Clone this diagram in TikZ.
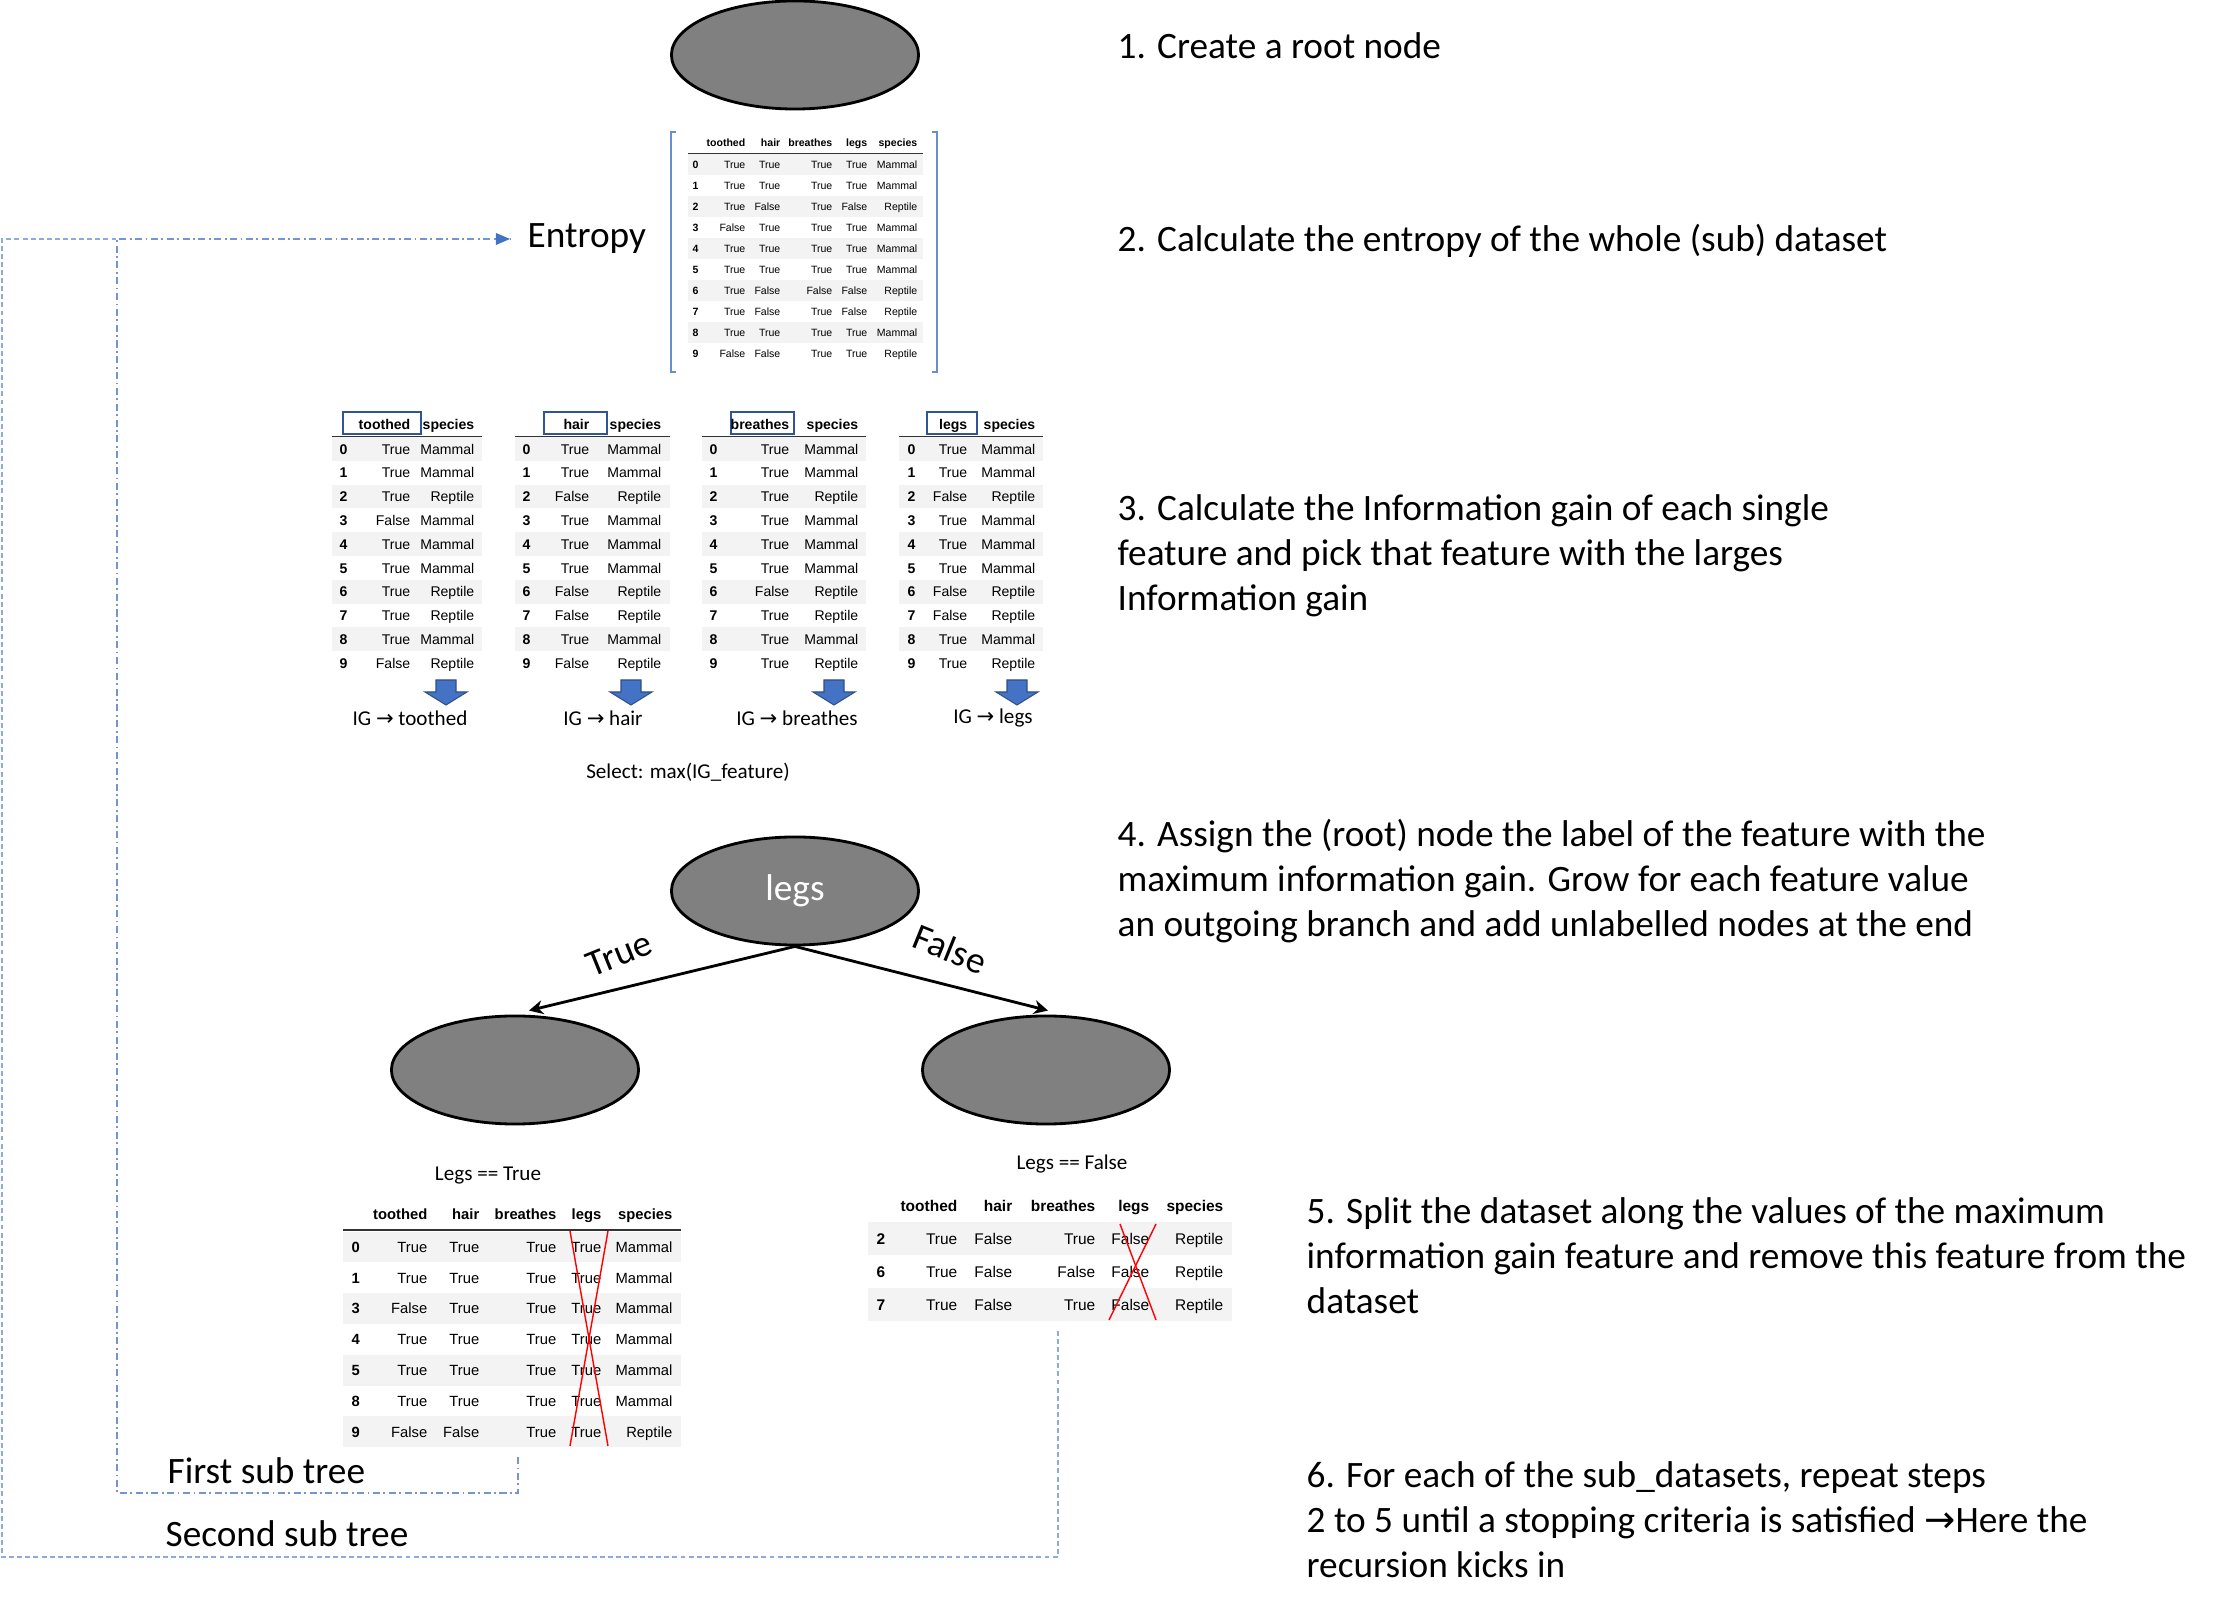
\documentclass[tikz,border=0pt]{standalone}
\usepackage{fontspec}
\setmainfont{Carlito}
\newfontfamily\tablefont{Liberation Sans}
\newfontfamily\arrowfont{DejaVu Sans}
\usetikzlibrary{arrows.meta, positioning, shapes.geometric, calc}

\definecolor{officeblue}{HTML}{4472C4}
\definecolor{loopblue}{HTML}{8FAADC}
\definecolor{boxblue}{HTML}{2F5597}
\definecolor{rowgray}{HTML}{F3F3F3}
\newcommand{\igarrow}{{\arrowfont →}}

% rows of the animal dataset: index/toothed/hair/breathes/legs/species
\def\animalrows{0/True/True/True/True/Mammal, 1/True/True/True/True/Mammal, 2/True/False/True/False/Reptile, 3/False/True/True/True/Mammal, 4/True/True/True/True/Mammal, 5/True/True/True/True/Mammal, 6/True/False/False/False/Reptile, 7/True/False/True/False/Reptile, 8/True/True/True/True/Mammal, 9/False/False/True/True/Reptile}
\def\legstruerows{0/True/True/True/True/Mammal, 1/True/True/True/True/Mammal, 3/False/True/True/True/Mammal, 4/True/True/True/True/Mammal, 5/True/True/True/True/Mammal, 8/True/True/True/True/Mammal, 9/False/False/True/True/Reptile}
\def\legsfalserows{2/True/False/True/False/Reptile, 6/True/False/False/False/Reptile, 7/True/False/True/False/Reptile}

\begin{document}
\begin{tikzpicture}[
    x=0.01cm, y=-0.01cm,
    treenode/.style={ellipse, draw=black, line width=0.8pt, fill=black!50, minimum width=2.47cm, minimum height=1.08cm, inner sep=0pt},
    steptext/.style={anchor=north west, align=left, inner sep=0pt, font=\fontsize{10.6}{12.76}\selectfont},
    biglabel/.style={inner sep=0pt, font=\fontsize{10.6}{12.76}\selectfont},
    smalllabel/.style={inner sep=0pt, font=\fontsize{6}{7.2}\selectfont},
    cell/.style={inner sep=0pt, text height=0.72*#1pt, text depth=0pt, font=\tablefont\fontsize{#1}{#1}\selectfont},
    headcell/.style={cell=#1, font=\tablefont\bfseries\fontsize{#1}{#1}\selectfont},
    headrule/.style={line width=0.5pt, black!80},
    featbox/.style={draw=boxblue, line width=0.6pt},
    bracket/.style={draw=officeblue!80, line width=0.6pt},
    igblock/.style={fill=officeblue, draw=officeblue!70!black, line width=0.3pt},
    treearrow/.style={-{Stealth[length=4pt, width=4pt]}, line width=0.8pt},
    crossout/.style={red, line width=0.4pt},
    outerloop/.style={loopblue, line width=0.6pt, dash pattern=on 1.4pt off 0.9pt},
    innerloop/.style={officeblue!75, line width=0.6pt, dash pattern=on 2pt off 1pt on 0.5pt off 1pt}
]
\useasboundingbox (0,0) rectangle (2217,1610);

% Step 1 and 2: root node and the whole dataset
\node[treenode] (root) at (795,55) {};
\draw[bracket] (676,132) -| (671,372) -- (676,372);
\draw[bracket] (932,132) -| (937,372) -- (932,372);
\foreach \col/\xr in {toothed/746, hair/781, breathes/833, legs/868, species/918}
    \node[headcell=3, anchor=east] (full-head-\col) at (\xr,143) {\col};
\draw[headrule] (688,154) -- (923,154);
\foreach \r/\a/\b/\c/\d/\s [count=\k from 0] in \animalrows {
    \pgfmathsetmacro{\yy}{165+21*\k}
    \ifodd\k\else \fill[rowgray] (688,\yy-10.5) rectangle (923,\yy+10.5); \fi
    \node[headcell=3, anchor=west] (full-\r-index) at (692,\yy) {\r};
    \node[cell=3, anchor=east] (full-\r-toothed) at (746,\yy) {\a};
    \node[cell=3, anchor=east] (full-\r-hair) at (781,\yy) {\b};
    \node[cell=3, anchor=east] (full-\r-breathes) at (833,\yy) {\c};
    \node[cell=3, anchor=east] (full-\r-legs) at (868,\yy) {\d};
    \node[cell=3, anchor=east] (full-\r-species) at (918,\yy) {\s};
}
\node[biglabel, anchor=west] (entropy) at (527,239) {Entropy};

% Step 3: one table per feature
\foreach \feat/\bl/\br/\rl/\rr/\xv/\xs in {toothed/343/421/332/482/411/475, hair/544/607/515/670/590/662, breathes/731/794/702/866/790/859, legs/927/977/899/1043/968/1036} {
    \draw[featbox] (\bl,412) rectangle (\br,434);
    \node[headcell=4, anchor=east] (\feat-head) at (\xv,424) {\feat};
    \node[headcell=4, anchor=east] (\feat-head-species) at (\xs,424) {species};
    \draw[headrule] (\rl,437) -- (\rr,437);
}
\foreach \r/\a/\b/\c/\d/\s [count=\k from 0] in \animalrows {
    \pgfmathsetmacro{\yy}{449+23.8*\k}
    \foreach \feat/\v/\rl/\rr/\xi/\xv/\xs in {toothed/\a/332/482/339/411/475, hair/\b/515/670/522/590/662, breathes/\c/702/866/709/790/859, legs/\d/899/1043/907/968/1036} {
        \ifodd\k\else \fill[rowgray] (\rl,\yy-11.9) rectangle (\rr,\yy+11.9); \fi
        \node[headcell=4, anchor=west] (\feat-\r-index) at (\xi,\yy) {\r};
        \node[cell=4, anchor=east] (\feat-\r-value) at (\xv,\yy) {\v};
        \node[cell=4, anchor=east] (\feat-\r-species) at (\xs,\yy) {\s};
    }
}
\foreach \xc in {446,631,834,1017}
    \fill[igblock] (\xc-10,680) -- (\xc+10,680) -- (\xc+10,692) -- (\xc+21,692) -- (\xc,705) -- (\xc-21,692) -- (\xc-10,692) -- cycle;
\node[smalllabel] (ig-toothed) at (410,718) {IG \igarrow{} toothed};
\node[smalllabel] (ig-hair) at (603,718) {IG \igarrow{} hair};
\node[smalllabel] (ig-breathes) at (797,718) {IG \igarrow{} breathes};
\node[smalllabel] (ig-legs) at (993,718) {IG \igarrow{} legs};
\node[smalllabel] (select) at (688,772) {Select: max(IG\_feature)};

% Step 4: labelled node and its branches
\node[treenode, text=white, font=\fontsize{10.6}{12.76}\selectfont] (legs) at (795,891) {legs};
\node[treenode] (lchild) at (515,1070) {};
\node[treenode] (rchild) at (1046,1070) {};
\draw[treearrow] (legs.south) -- ([shift={(14,-4)}]lchild.north);
\draw[treearrow] (legs.south) -- ([shift={(2,-4)}]rchild.north);
\node[biglabel, rotate=22] (true-label) at (619,954) {True};
\node[biglabel, rotate=-22] (false-label) at (950,949) {False};

% Step 5: split datasets
\node[smalllabel] (legs-true-title) at (488,1176) {Legs == True};
\foreach \col/\xr in {toothed/428, hair/480, breathes/557, legs/602, species/673}
    \node[headcell=4.2, anchor=east] (ltrue-head-\col) at (\xr,1214) {\col};
\draw[headrule] (343,1230) -- (681,1230);
\foreach \r/\a/\b/\c/\d/\s [count=\k from 0] in \legstruerows {
    \pgfmathsetmacro{\yy}{1247+30.8*\k}
    \ifodd\k\else \fill[rowgray] (343,\yy-15.4) rectangle (681,\yy+15.4); \fi
    \node[headcell=4.2, anchor=west] (ltrue-\r-index) at (351,\yy) {\r};
    \node[cell=4.2, anchor=east] (ltrue-\r-toothed) at (428,\yy) {\a};
    \node[cell=4.2, anchor=east] (ltrue-\r-hair) at (480,\yy) {\b};
    \node[cell=4.2, anchor=east] (ltrue-\r-breathes) at (557,\yy) {\c};
    \node[cell=4.2, anchor=east] (ltrue-\r-legs) at (602,\yy) {\d};
    \node[cell=4.2, anchor=east] (ltrue-\r-species) at (673,\yy) {\s};
}
\draw[crossout] (570,1231) -- (608,1446);
\draw[crossout] (608,1231) -- (570,1446);

\node[smalllabel] (legs-false-title) at (1072,1164) {Legs == False};
\foreach \col/\xr in {toothed/958, hair/1013, breathes/1096, legs/1150, species/1224}
    \node[headcell=4.4, anchor=east] (lfalse-head-\col) at (\xr,1206) {\col};
\draw[headrule] (868,1223) -- (1232,1223);
\foreach \r/\a/\b/\c/\d/\s [count=\k from 0] in \legsfalserows {
    \pgfmathsetmacro{\yy}{1239+33*\k}
    \ifodd\k\else \fill[rowgray] (868,\yy-16.5) rectangle (1232,\yy+16.5); \fi
    \node[headcell=4.4, anchor=west] (lfalse-\r-index) at (876,\yy) {\r};
    \node[cell=4.4, anchor=east] (lfalse-\r-toothed) at (958,\yy) {\a};
    \node[cell=4.4, anchor=east] (lfalse-\r-hair) at (1013,\yy) {\b};
    \node[cell=4.4, anchor=east] (lfalse-\r-breathes) at (1096,\yy) {\c};
    \node[cell=4.4, anchor=east] (lfalse-\r-legs) at (1150,\yy) {\d};
    \node[cell=4.4, anchor=east] (lfalse-\r-species) at (1224,\yy) {\s};
}
\draw[crossout] (1120,1224) -- (1156,1320);
\draw[crossout] (1156,1224) -- (1109,1320);

% Step 6: recursion loops back to the entropy
\node[biglabel, anchor=west] (first-sub) at (167,1471) {First sub tree};
\node[biglabel, anchor=west] (second-sub) at (165,1534) {Second sub tree};
\coordinate (sub1-start) at (518,1457);
\coordinate (sub1-corner) at (117,1493);
\coordinate (sub2-start) at (1058,1331);
\coordinate (sub2-corner) at (2,1557);
\draw[outerloop] (sub2-start) |- (sub2-corner) -- (sub2-corner |- entropy.west) -- (sub1-corner |- entropy.west);
\draw[innerloop] (sub1-start) |- (sub1-corner) -- (sub1-corner |- entropy.west) -- ([xshift=-0.17cm]entropy.west);
\fill[officeblue] ([xshift=-0.17cm]entropy.west) -- ++(-14,-6) -- ++(0,12) -- cycle;

% Steps
\node[steptext] (step1) at (1117,32) {1. Create a root node};
\node[steptext] (step2) at (1117,224) {2. Calculate the entropy of the whole (sub) dataset};
\node[steptext] (step3) at (1117,494) {3. Calculate the Information gain of each single\\feature and pick that feature with the larges\\Information gain};
\node[steptext] (step4) at (1117,819) {4. Assign the (root) node the label of the feature with the\\maximum information gain. Grow for each feature value\\an outgoing branch and add unlabelled nodes at the end};
\node[steptext] (step5) at (1306,1197) {5. Split the dataset along the values of the maximum\\information gain feature and remove this feature from the\\dataset};
\node[steptext] (step6) at (1306,1461) {6. For each of the sub\_datasets, repeat steps\\2 to 5 until a stopping criteria is satisfied \igarrow Here the\\recursion kicks in};

\end{tikzpicture}
\end{document}
